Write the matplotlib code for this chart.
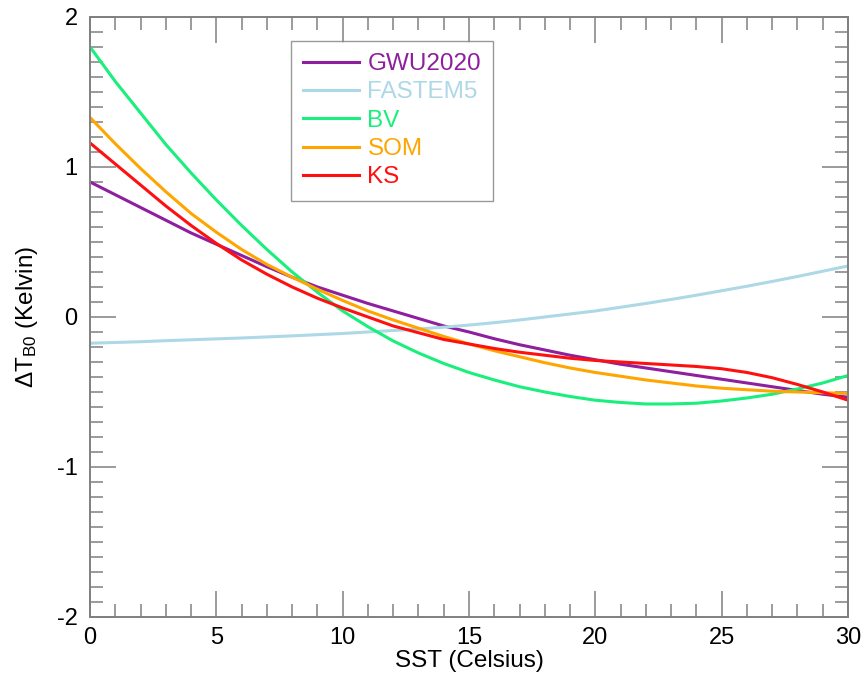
import matplotlib
matplotlib.use('Agg')
import matplotlib.pyplot as plt
from matplotlib.ticker import MultipleLocator

plt.rcParams['font.family'] = ['Liberation Sans', 'DejaVu Sans']
plt.rcParams['mathtext.fontset'] = 'custom'
plt.rcParams['mathtext.rm'] = 'Liberation Sans'
plt.rcParams['mathtext.it'] = 'Liberation Sans:italic'
plt.rcParams['axes.unicode_minus'] = False

# SST grid (Celsius) and brightness temperature differences (K)
sst = list(range(0, 31))
gwu2020 = [0.90, 0.815, 0.73, 0.645, 0.56, 0.485, 0.41, 0.335, 0.265, 0.20,
           0.145, 0.09, 0.04, -0.01, -0.06, -0.10, -0.145, -0.185, -0.22, -0.255,
           -0.285, -0.315, -0.34, -0.365, -0.39, -0.415, -0.44, -0.465, -0.49, -0.515,
           -0.535]
fastem5 = [-0.175, -0.17, -0.165, -0.158, -0.152, -0.146, -0.14, -0.133, -0.126, -0.118,
           -0.11, -0.10, -0.09, -0.08, -0.068, -0.054, -0.038, -0.02, 0.0, 0.02,
           0.04, 0.065, 0.09, 0.117, 0.145, 0.175, 0.205, 0.237, 0.27, 0.305,
           0.34]
bv = [1.80, 1.57, 1.36, 1.15, 0.96, 0.78, 0.61, 0.45, 0.30, 0.165,
      0.04, -0.065, -0.16, -0.24, -0.31, -0.37, -0.42, -0.465, -0.50, -0.53,
      -0.555, -0.57, -0.58, -0.58, -0.575, -0.56, -0.54, -0.515, -0.48, -0.44,
      -0.39]
som = [1.33, 1.155, 0.99, 0.835, 0.69, 0.565, 0.45, 0.35, 0.265, 0.185,
       0.11, 0.04, -0.02, -0.075, -0.13, -0.18, -0.225, -0.265, -0.305, -0.34,
       -0.37, -0.395, -0.42, -0.44, -0.46, -0.475, -0.485, -0.495, -0.50, -0.505,
       -0.51]
ks = [1.16, 1.02, 0.88, 0.74, 0.61, 0.49, 0.38, 0.285, 0.20, 0.125,
      0.06, 0.0, -0.06, -0.105, -0.15, -0.18, -0.21, -0.235, -0.255, -0.275,
      -0.29, -0.30, -0.31, -0.32, -0.33, -0.345, -0.37, -0.405, -0.45, -0.50,
      -0.555]

names = ['GWU2020', 'FASTEM5', 'BV', 'SOM', 'KS']
series = [gwu2020, fastem5, bv, som, ks]
colors = ['#8e1f9e', '#add8e6', '#19ef7c', '#ffa500', '#ff1010']

fig = plt.figure(figsize=(8.64, 6.76), dpi=100)
ax = fig.add_axes([0.1042, 0.0873, 0.8773, 0.8876])

for name, vals, c in zip(names, series, colors):
    ax.plot(sst, vals, color=c, lw=2.2, label=name)

ax.set_xlim(0, 30)
ax.set_ylim(-2, 2)
ax.xaxis.set_major_locator(MultipleLocator(5))
ax.xaxis.set_minor_locator(MultipleLocator(1))
ax.yaxis.set_major_locator(MultipleLocator(1))
ax.yaxis.set_minor_locator(MultipleLocator(0.1))

ax.tick_params(which='both', direction='in', top=True, right=True, color='#808080')
ax.tick_params(which='major', length=19, width=1.1, labelsize=17)
ax.tick_params(which='minor', length=9.5, width=1.1)
ax.tick_params(axis='x', which='major', pad=7)
ax.tick_params(axis='y', which='major', pad=9)
for sp in ax.spines.values():
    sp.set_color('#808080')
    sp.set_linewidth(1.4)

ax.set_xlabel('SST (Celsius)', fontsize=17.5, labelpad=1)
ax.set_ylabel(r'$\Delta$T$_{\mathrm{B0}}$ (Kelvin)', fontsize=17.5, labelpad=12)

leg = ax.legend(loc='upper left', bbox_to_anchor=(0.265, 0.96), fontsize=17.5,
                frameon=True, fancybox=False, handlelength=2.3, handletextpad=0.35,
                labelspacing=0.26, borderpad=0.5, borderaxespad=0)
leg.get_frame().set_edgecolor('#808080')
leg.get_frame().set_linewidth(1.0)
for txt, c in zip(leg.get_texts(), colors):
    txt.set_color(c)

fig.savefig('out.png', dpi=100)
